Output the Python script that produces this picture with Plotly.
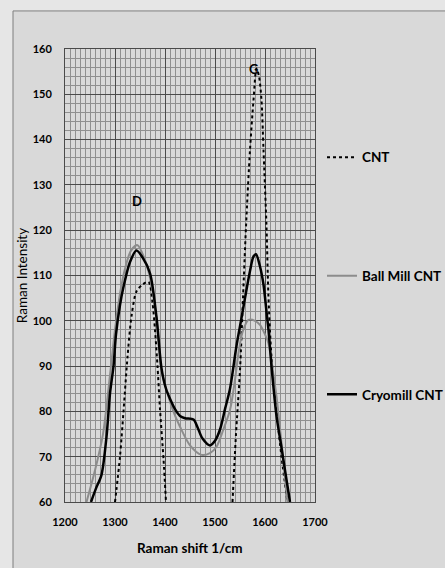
import plotly.graph_objects as go

# ---- data ----
cnt_x = [1300, 1310, 1317, 1325, 1333, 1343, 1355, 1367, 1375, 1380, 1385, 1390, 1397, 1402,
         None,
         1535, 1542, 1550, 1556, 1562, 1570, 1577, 1583, 1588, 1593, 1597, 1603, 1607, 1613, 1623, 1633, 1645]
cnt_y = [60, 70, 80, 92, 101, 106.5, 108, 108.6, 104, 98, 90, 80.5, 69.5, 60,
         None,
         60, 75, 89, 105, 120.8, 137.7, 148.7, 155.7, 154, 148.7, 137.7, 120.8, 105, 92, 80, 70, 60]

ball_x = [1243, 1260, 1276, 1290, 1300, 1310, 1320, 1332, 1345, 1358, 1370, 1383, 1393, 1405, 1415,
          1430, 1450, 1473, 1490, 1503, 1515, 1530, 1540, 1547, 1555, 1567, 1580, 1590, 1600, 1607,
          1615, 1623, 1633, 1645]
ball_y = [60, 67, 75, 88, 98, 106, 111.5, 115.5, 116.7, 114, 109.5, 100.5, 89, 84, 80.5,
          76.6, 72.5, 70.4, 70.8, 72.2, 75.5, 80.3, 87, 92.9, 97.5, 100.2, 100, 99.1, 97, 95,
          89.5, 83.3, 73, 60]

cryo_x = [1252, 1262, 1273, 1283, 1290, 1297, 1302, 1310, 1317, 1330, 1343, 1355, 1370, 1383, 1393,
          1402, 1410, 1420, 1430, 1440, 1457, 1465, 1475, 1490, 1500, 1510, 1520, 1530, 1543, 1552,
          1560, 1570, 1577, 1582, 1590, 1597, 1603, 1607, 1613, 1623, 1633, 1640, 1650]
cryo_y = [60, 63, 66, 74.4, 84, 90, 97, 103.5, 107.5, 113, 115.5, 114, 110.5, 100.8, 89.5,
          85, 82.8, 80.5, 79, 78.5, 78.2, 76.5, 74, 72.5, 73.5, 76, 80.5, 85, 94.5, 100,
          105, 111, 114.2, 114.7, 112, 108, 102, 98, 90, 79, 72, 67, 60]

x_ticks = [1200, 1300, 1400, 1500, 1600, 1700]
y_ticks = [60, 70, 80, 90, 100, 110, 120, 130, 140, 150, 160]
peak_labels = ["D", "G"]
peak_x = [1344, 1576]
peak_y = [126.5, 155.6]

FONT = "Lato"

fig = go.Figure()
fig.add_trace(go.Scatter(x=cnt_x, y=cnt_y, mode="lines", name="CNT", legendgroup="a",
                         line=dict(color="black", width=2, dash="dot", shape="spline", smoothing=0.8),
                         connectgaps=False))
fig.add_trace(go.Scatter(x=ball_x, y=ball_y, mode="lines", name="Ball Mill CNT", legendgroup="b",
                         line=dict(color="#8c8c8c", width=2, shape="spline", smoothing=0.8)))
fig.add_trace(go.Scatter(x=cryo_x, y=cryo_y, mode="lines", name="Cryomill CNT", legendgroup="c",
                         line=dict(color="black", width=2.5, shape="spline", smoothing=0.8)))

for t, px, py in zip(peak_labels, peak_x, peak_y):
    fig.add_annotation(x=px, y=py, text="<b>%s</b>" % t, showarrow=False,
                       font=dict(family=FONT, size=13, color="black"))

# x-axis title placed as paper annotation
fig.add_annotation(xref="paper", yref="paper", x=0.5, y=-0.1015, yanchor="middle",
                   text="<b>Raman shift 1/cm</b>", showarrow=False,
                   font=dict(family=FONT, size=13.5, color="black"))

# outer frame of the chart
fig.add_shape(type="rect", xref="paper", yref="paper", x0=-0.208, x1=1.6, y0=-0.3, y1=1.084,
              line=dict(color="#7f7f7f", width=1), fillcolor="#d9d9d9", layer="below")

fig.update_layout(
    width=445, height=568,
    margin=dict(l=65, r=130, t=49, b=66, autoexpand=False),
    paper_bgcolor="#e6e6e6",
    plot_bgcolor="rgba(0,0,0,0)",
    font=dict(family=FONT, color="black"),
    showlegend=True,
    legend=dict(x=1.028, xanchor="left", y=0.795, yanchor="top", traceorder="grouped",
                tracegroupgap=98, bgcolor="rgba(0,0,0,0)",
                font=dict(family=FONT, size=13.5, color="black", weight="bold")),
    xaxis=dict(range=[1200, 1700], tickvals=x_ticks, ticktext=[str(v) for v in x_ticks],
               showgrid=True, gridcolor="#4a4a4a", gridwidth=1,
               minor=dict(dtick=10, showgrid=True, gridcolor="#8f8f8f", gridwidth=1),
               zeroline=False, showline=True, linecolor="#4a4a4a", mirror=True,
               ticklabelstandoff=10,
               tickfont=dict(family=FONT, size=11, weight="bold")),
    yaxis=dict(range=[60, 160], tickvals=y_ticks, ticktext=[str(v) for v in y_ticks],
               showgrid=True, gridcolor="#4a4a4a", gridwidth=1,
               minor=dict(dtick=2, showgrid=True, gridcolor="#8f8f8f", gridwidth=1),
               zeroline=False, showline=True, linecolor="#4a4a4a", mirror=True,
               ticklabelstandoff=10,
               tickfont=dict(family=FONT, size=11, weight="bold"),
               title=dict(text="Raman Intensity", font=dict(family=FONT, size=13.5), standoff=1)),
)

fig.write_html("out.html")
